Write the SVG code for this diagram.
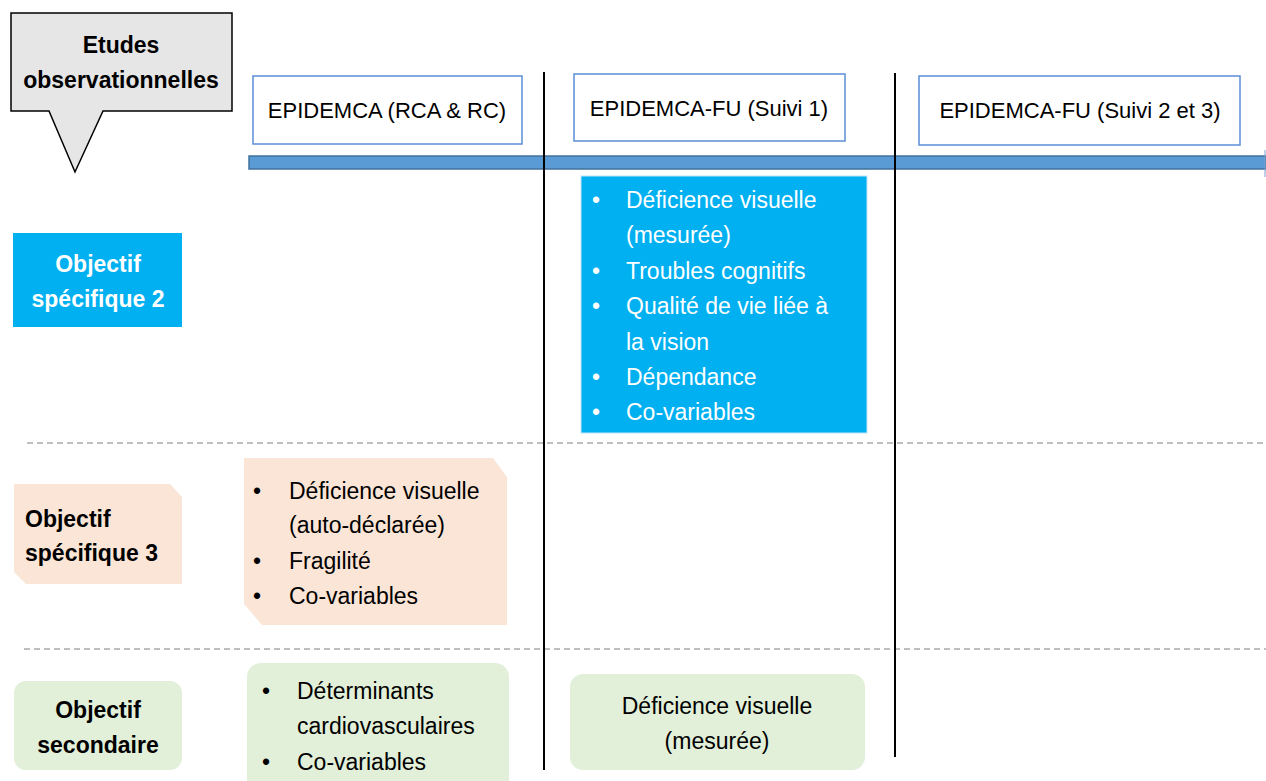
<svg xmlns="http://www.w3.org/2000/svg" width="1266" height="781" viewBox="0 0 1266 781">
<style>
.t{font-family:"Liberation Sans",Arial,sans-serif;font-size:22px;fill:#000}
.b{font-weight:bold;font-size:23px}
.w{fill:#fff}
.c{text-anchor:middle}
.hdr{fill:#fff;stroke:#5b8fd6;stroke-width:1.5}
.vl{stroke:#000;stroke-width:2}
.dl{stroke:#aaa;stroke-width:1.5;stroke-dasharray:6 4}
.blue{fill:#00b0f0}
.peach{fill:#fbe5d6}
.green{fill:#e2f0d9}
</style>
<rect width="1266" height="781" fill="#fff"/>
<g id="connectors">
<line class="dl" x1="27" y1="443" x2="1266" y2="443"/>
<line class="dl" x1="24" y1="649" x2="1266" y2="649"/>
<rect x="249" y="156" width="1017" height="13" fill="#5b9bd5" stroke="#41719c" stroke-width="1.5"/>
<line x1="1265" y1="150" x2="1265" y2="177" stroke="#7f9fcf" stroke-width="1"/>
<line class="vl" x1="544" y1="72" x2="544" y2="770"/>
<line class="vl" x1="895" y1="73" x2="895" y2="757"/>
</g>
<g id="callout">
<path d="M11,13 H232 V111 H103 L75,172 L49,111 H11 Z" fill="#e6e6e6" stroke="#000" stroke-width="1.5"/>
<text class="t b c" x="121" y="53">Etudes</text>
<text class="t b c" x="121" y="88">observationnelles</text>
</g>
<g id="hdr1">
<rect class="hdr" x="253" y="76" width="269" height="68"/>
<text class="t c" x="387" y="118">EPIDEMCA (RCA &amp; RC)</text>
</g>
<g id="hdr2">
<rect class="hdr" x="574" y="74" width="271" height="67"/>
<text class="t c" x="709" y="116">EPIDEMCA-FU (Suivi 1)</text>
</g>
<g id="hdr3">
<rect class="hdr" x="919" y="76" width="321" height="69"/>
<text class="t c" x="1080" y="118">EPIDEMCA-FU (Suivi 2 et 3)</text>
</g>
<g id="obj2">
<rect class="blue" x="13" y="233" width="169" height="94"/>
<text class="t b w c" x="98" y="272">Objectif</text>
<text class="t b w c" x="98" y="307">spécifique 2</text>
</g>
<g id="obj2-content">
<rect class="blue" x="581" y="176" width="286" height="257" stroke="#bfe6f7" stroke-width="1"/>
<g class="t w" style="font-size:23px">
<text x="592" y="208">•</text><text x="626" y="208">Déficience visuelle</text>
<text x="626" y="243">(mesurée)</text>
<text x="592" y="279">•</text><text x="626" y="279">Troubles cognitifs</text>
<text x="592" y="314">•</text><text x="626" y="314">Qualité de vie liée à</text>
<text x="626" y="350">la vision</text>
<text x="592" y="385">•</text><text x="626" y="385">Dépendance</text>
<text x="592" y="420">•</text><text x="626" y="420">Co-variables</text>
</g>
</g>
<g id="obj3">
<path class="peach" d="M14,484 H170 L182,497 V584 H26 L14,572 Z"/>
<text class="t b" x="25" y="527">Objectif</text>
<text class="t b" x="25" y="561">spécifique 3</text>
</g>
<g id="obj3-content">
<path class="peach" d="M244,458 H493 L507,477 V625 H262 L244,604 Z"/>
<g class="t" style="font-size:23px">
<text x="253" y="499">•</text><text x="289" y="499">Déficience visuelle</text>
<text x="289" y="533">(auto-déclarée)</text>
<text x="253" y="569">•</text><text x="289" y="569">Fragilité</text>
<text x="253" y="604">•</text><text x="289" y="604">Co-variables</text>
</g>
</g>
<g id="objsec">
<rect class="green" x="14" y="681" width="168" height="89" rx="12"/>
<text class="t b c" x="98" y="718">Objectif</text>
<text class="t b c" x="98" y="753">secondaire</text>
</g>
<g id="objsec-content1">
<rect class="green" x="247" y="663" width="262" height="135" rx="14"/>
<g class="t" style="font-size:23px">
<text x="262" y="699">•</text><text x="297" y="699">Déterminants</text>
<text x="297" y="734">cardiovasculaires</text>
<text x="262" y="770">•</text><text x="297" y="770">Co-variables</text>
</g>
</g>
<g id="objsec-content2">
<rect class="green" x="570" y="674" width="295" height="96" rx="13"/>
<text class="t c" style="font-size:23px" x="717" y="714">Déficience visuelle</text>
<text class="t c" style="font-size:23px" x="717" y="749">(mesurée)</text>
</g>
</svg>
